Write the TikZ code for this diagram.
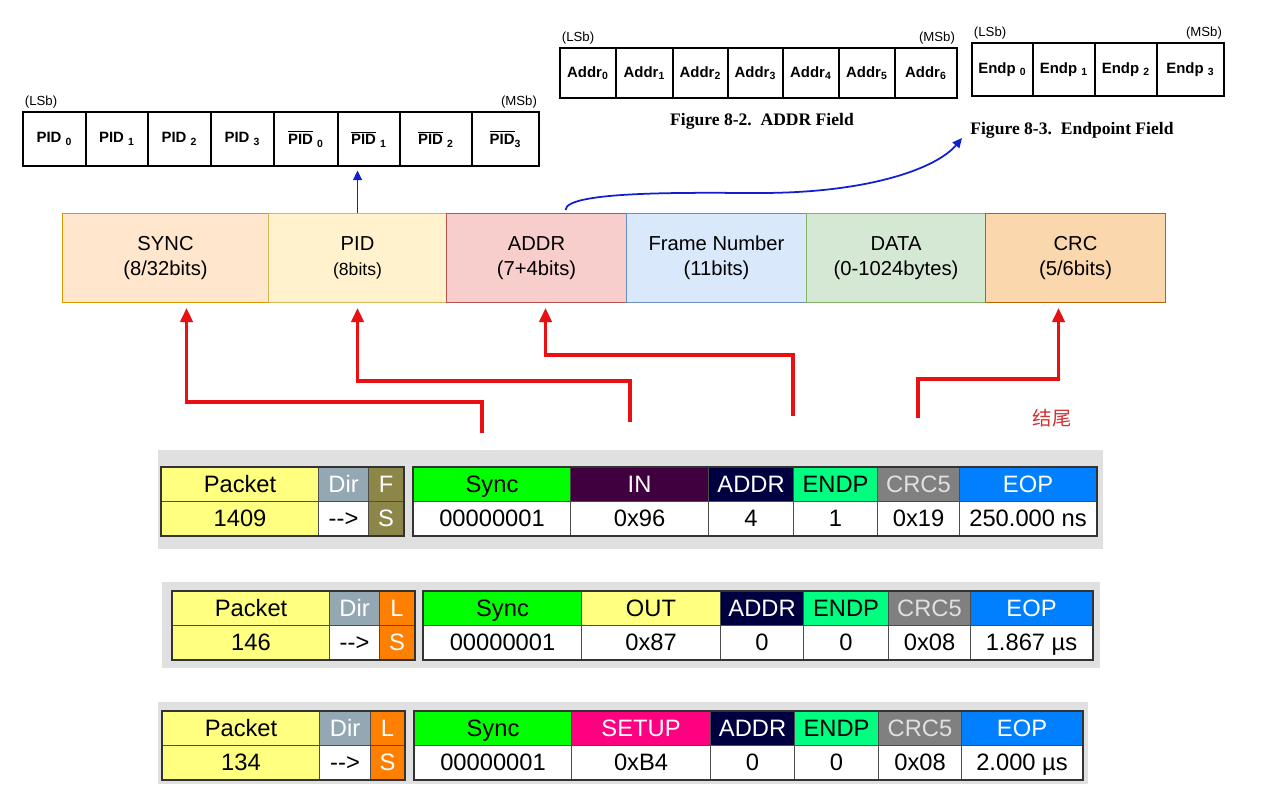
\documentclass[tikz,border=0pt]{standalone}
\usepackage{fontspec}
\setmainfont{Liberation Sans}
\newfontfamily\capfont{Liberation Serif}
\newfontfamily\cjkfont{Noto Sans CJK SC}
\usetikzlibrary{arrows.meta}

\newcommand\pxw{0.02cm}

\definecolor{syncfill}{HTML}{FFE6CC}\definecolor{syncline}{HTML}{D79B00}
\definecolor{pidfill}{HTML}{FFF2CC}\definecolor{pidline}{HTML}{D6B656}
\definecolor{addrfill}{HTML}{F8CECC}\definecolor{addrline}{HTML}{B85450}
\definecolor{fnfill}{HTML}{DAE8FC}\definecolor{fnline}{HTML}{6C8EBF}
\definecolor{datafill}{HTML}{D5E8D4}\definecolor{dataline}{HTML}{82B366}
\definecolor{crcfill}{HTML}{FAD7AC}\definecolor{crcline}{HTML}{B46504}
\definecolor{pkyel}{HTML}{FFFF80}
\definecolor{dirgray}{HTML}{94A8B4}
\definecolor{olive}{HTML}{8C8648}
\definecolor{lorange}{HTML}{FF8000}
\definecolor{syncgreen}{HTML}{00FF00}
\definecolor{inpurple}{HTML}{400040}
\definecolor{addrnavy}{HTML}{000040}
\definecolor{endpgreen}{HTML}{00FF80}
\definecolor{crcgray}{HTML}{808080}
\definecolor{eopblue}{HTML}{0080FF}
\definecolor{setpink}{HTML}{FF0080}
\definecolor{bggray}{HTML}{E0E0E0}
\definecolor{arrred}{HTML}{E81010}
\definecolor{txtred}{HTML}{D03030}
\definecolor{arrblue}{HTML}{1020D0}

\begin{document}
\begin{tikzpicture}[x=0.02cm, y=-0.02cm,
  bitcell/.style={draw, line width=1.1pt, anchor=north west, inner sep=0pt, font=\fontsize{8.5}{10}\selectfont\bfseries},
  bitlbl/.style={inner sep=1.5pt, font=\fontsize{7.5}{9}\selectfont},
  figcap/.style={inner sep=0pt, font=\capfont\fontsize{10}{12}\selectfont\bfseries},
  bar/.style={draw, line width=0.6pt, anchor=north west, minimum height=89*\pxw, inner sep=0pt, align=center, font=\fontsize{11.5}{14}\selectfont},
  tcell/.style={draw=black!70, line width=0.6pt, anchor=north west, minimum height=34*\pxw, inner sep=0pt, text height=11.4pt, text depth=2pt, font=\fontsize{13.5}{16}\selectfont},
  tframe/.style={draw=black!80, line width=1pt},
  redarr/.style={draw=arrred, line width=1.8pt, -{Triangle[length=8pt,width=7pt]}, shorten >=2.8pt},
  bluearr/.style={draw=arrblue, line width=1pt, -{Triangle[length=5.5pt,width=5pt]}},
]
\useasboundingbox (0,0) rectangle (1275,811);

% PID field
\node[bitcell, minimum width=63*\pxw, minimum height=54*\pxw] (p0) at (22,111) {PID \textsubscript{0}};
\node[bitcell, minimum width=62*\pxw, minimum height=54*\pxw] (p1) at (85,111) {PID \textsubscript{1}};
\node[bitcell, minimum width=63*\pxw, minimum height=54*\pxw] (p2) at (147,111) {PID \textsubscript{2}};
\node[bitcell, minimum width=63*\pxw, minimum height=54*\pxw] (p3) at (210,111) {PID \textsubscript{3}};
\node[bitcell, minimum width=64*\pxw, minimum height=54*\pxw] (p4) at (273,111) {$\overline{\mbox{PID}}$ \textsubscript{0}};
\node[bitcell, minimum width=62*\pxw, minimum height=54*\pxw] (p5) at (337,111) {$\overline{\mbox{PID}}$ \textsubscript{1}};
\node[bitcell, minimum width=72*\pxw, minimum height=54*\pxw] (p6) at (399,111) {$\overline{\mbox{PID}}$ \textsubscript{2}};
\node[bitcell, minimum width=67*\pxw, minimum height=54*\pxw] (p7) at (471,111) {$\overline{\mbox{PID}}$\textsubscript{3}};
\node[bitlbl, anchor=south west] (plsb) at (p0.north west) {(LSb)};
\node[bitlbl, anchor=south east] (pmsb) at (p7.north east) {(MSb)};

% ADDR field
\node[bitcell, minimum width=56*\pxw, minimum height=50*\pxw] (a0) at (559,47) {Addr\textsubscript{0}};
\node[bitcell, minimum width=57*\pxw, minimum height=50*\pxw] (a1) at (615,47) {Addr\textsubscript{1}};
\node[bitcell, minimum width=55*\pxw, minimum height=50*\pxw] (a2) at (672,47) {Addr\textsubscript{2}};
\node[bitcell, minimum width=55*\pxw, minimum height=50*\pxw] (a3) at (727,47) {Addr\textsubscript{3}};
\node[bitcell, minimum width=56*\pxw, minimum height=50*\pxw] (a4) at (782,47) {Addr\textsubscript{4}};
\node[bitcell, minimum width=56*\pxw, minimum height=50*\pxw] (a5) at (838,47) {Addr\textsubscript{5}};
\node[bitcell, minimum width=62*\pxw, minimum height=50*\pxw] (a6) at (894,47) {Addr\textsubscript{6}};
\node[bitlbl, anchor=south west] (alsb) at (a0.north west) {(LSb)};
\node[bitlbl, anchor=south east] (amsb) at (a6.north east) {(MSb)};
\node[figcap] (adcap) at (762,121) {Figure 8-2.~~ADDR Field};

% Endpoint field
\node[bitcell, minimum width=61*\pxw, minimum height=53*\pxw] (e0) at (971,42) {Endp \textsubscript{0}};
\node[bitcell, minimum width=62*\pxw, minimum height=53*\pxw] (e1) at (1032,42) {Endp \textsubscript{1}};
\node[bitcell, minimum width=62*\pxw, minimum height=53*\pxw] (e2) at (1094,42) {Endp \textsubscript{2}};
\node[bitcell, minimum width=67*\pxw, minimum height=53*\pxw] (e3) at (1156,42) {Endp \textsubscript{3}};
\node[bitlbl, anchor=south west] (elsb) at (e0.north west) {(LSb)};
\node[bitlbl, anchor=south east] (emsb) at (e3.north east) {(MSb)};
\node[figcap, anchor=west] (epcap) at (970,130) {Figure 8-3.~~Endpoint Field};

% packet layout
\node[bar, fill=syncfill, draw=syncline, minimum width=206*\pxw] (syncbar) at (62,213) {SYNC\\(8/32bits)};
\node[bar, fill=pidfill, draw=pidline, minimum width=178*\pxw] (pidbar) at (268,213) {PID\\{\fontsize{10}{12}\selectfont(8bits)}};
\node[bar, fill=addrfill, draw=addrline, minimum width=180*\pxw] (addrbar) at (446,213) {ADDR\\(7+4bits)};
\node[bar, fill=fnfill, draw=fnline, minimum width=180*\pxw] (fnbar) at (626,213) {Frame Number\\(11bits)};
\node[bar, fill=datafill, draw=dataline, minimum width=179*\pxw] (databar) at (806,213) {DATA\\(0-1024bytes)};
\node[bar, fill=crcfill, draw=crcline, minimum width=180*\pxw] (crcbar) at (985,213) {CRC\\(5/6bits)};

\draw[bluearr, shorten >=2pt] (pidbar.north) -- (pidbar.north |- p5.south);
\draw[bluearr] ([shift={(29,-3)}]addrbar.north) .. controls +(0,-20) and +(-60,0) .. (760,193) .. controls +(110,0) and +(-25,30) .. ([shift={(-8,8)}]epcap.west);

% captured packets
\fill[bggray] (158,450) rectangle (1103,549);
\fill[bggray] (162,582) rectangle (1100,668);
\fill[bggray] (158,702) rectangle (1088,784);

% IN
\node[tcell, fill=pkyel, minimum width=157*\pxw] (k1a) at (161,467) {Packet};
\node[tcell, fill=pkyel, minimum width=157*\pxw] (k1b) at (161,501) {1409};
\node[tcell, fill=dirgray, text=white, minimum width=50*\pxw] (d1a) at (318,467) {Dir};
\node[tcell, fill=white, minimum width=50*\pxw] (d1b) at (318,501) {-{}->};
\node[tcell, fill=olive, text=white, minimum width=35*\pxw] (f1a) at (368,467) {F};
\node[tcell, fill=olive, text=white, minimum width=35*\pxw] (f1b) at (368,501) {S};
\node[tcell, fill=syncgreen, minimum width=157*\pxw] (s1a) at (413,467) {Sync};
\node[tcell, fill=white, minimum width=157*\pxw] (s1b) at (413,501) {00000001};
\node[tcell, fill=inpurple, text=white, minimum width=138*\pxw] (i1a) at (570,467) {IN};
\node[tcell, fill=white, minimum width=138*\pxw] (i1b) at (570,501) {0x96};
\node[tcell, fill=addrnavy, text=white, minimum width=85*\pxw] (a1a) at (708,467) {ADDR};
\node[tcell, fill=white, minimum width=85*\pxw] (a1b) at (708,501) {4};
\node[tcell, fill=endpgreen, minimum width=84*\pxw] (n1a) at (793,467) {ENDP};
\node[tcell, fill=white, minimum width=84*\pxw] (n1b) at (793,501) {1};
\node[tcell, fill=crcgray, text=black!12, minimum width=82*\pxw] (c1a) at (877,467) {CRC5};
\node[tcell, fill=white, minimum width=82*\pxw] (c1b) at (877,501) {0x19};
\node[tcell, fill=eopblue, text=white, minimum width=137*\pxw] (o1a) at (959,467) {EOP};
\node[tcell, fill=white, minimum width=137*\pxw] (o1b) at (959,501) {250.000 ns};
\draw[tframe] (k1a.north west) rectangle (f1b.south east);
\draw[tframe] (s1a.north west) rectangle (o1b.south east);

% OUT
\node[tcell, fill=pkyel, minimum width=157*\pxw] (k2a) at (172,591) {Packet};
\node[tcell, fill=pkyel, minimum width=157*\pxw] (k2b) at (172,625) {146};
\node[tcell, fill=dirgray, text=white, minimum width=50*\pxw] (d2a) at (329,591) {Dir};
\node[tcell, fill=white, minimum width=50*\pxw] (d2b) at (329,625) {-{}->};
\node[tcell, fill=lorange, text=white, minimum width=35*\pxw] (f2a) at (379,591) {L};
\node[tcell, fill=lorange, text=white, minimum width=35*\pxw] (f2b) at (379,625) {S};
\node[tcell, fill=syncgreen, minimum width=158*\pxw] (s2a) at (423,591) {Sync};
\node[tcell, fill=white, minimum width=158*\pxw] (s2b) at (423,625) {00000001};
\node[tcell, fill=pkyel, minimum width=139*\pxw] (i2a) at (581,591) {OUT};
\node[tcell, fill=white, minimum width=139*\pxw] (i2b) at (581,625) {0x87};
\node[tcell, fill=addrnavy, text=white, minimum width=83*\pxw] (a2a) at (720,591) {ADDR};
\node[tcell, fill=white, minimum width=83*\pxw] (a2b) at (720,625) {0};
\node[tcell, fill=endpgreen, minimum width=85*\pxw] (n2a) at (803,591) {ENDP};
\node[tcell, fill=white, minimum width=85*\pxw] (n2b) at (803,625) {0};
\node[tcell, fill=crcgray, text=black!12, minimum width=82*\pxw] (c2a) at (888,591) {CRC5};
\node[tcell, fill=white, minimum width=82*\pxw] (c2b) at (888,625) {0x08};
\node[tcell, fill=eopblue, text=white, minimum width=122*\pxw] (o2a) at (970,591) {EOP};
\node[tcell, fill=white, minimum width=122*\pxw] (o2b) at (970,625) {1.867 µs};
\draw[tframe] (k2a.north west) rectangle (f2b.south east);
\draw[tframe] (s2a.north west) rectangle (o2b.south east);

% SETUP
\node[tcell, fill=pkyel, minimum width=157*\pxw] (k3a) at (162,711) {Packet};
\node[tcell, fill=pkyel, minimum width=157*\pxw] (k3b) at (162,745) {134};
\node[tcell, fill=dirgray, text=white, minimum width=51*\pxw] (d3a) at (319,711) {Dir};
\node[tcell, fill=white, minimum width=51*\pxw] (d3b) at (319,745) {-{}->};
\node[tcell, fill=lorange, text=white, minimum width=34*\pxw] (f3a) at (370,711) {L};
\node[tcell, fill=lorange, text=white, minimum width=34*\pxw] (f3b) at (370,745) {S};
\node[tcell, fill=syncgreen, minimum width=157*\pxw] (s3a) at (414,711) {Sync};
\node[tcell, fill=white, minimum width=157*\pxw] (s3b) at (414,745) {00000001};
\node[tcell, fill=setpink, text=white, minimum width=139*\pxw] (i3a) at (571,711) {SETUP};
\node[tcell, fill=white, minimum width=139*\pxw] (i3b) at (571,745) {0xB4};
\node[tcell, fill=addrnavy, text=white, minimum width=84*\pxw] (a3a) at (710,711) {ADDR};
\node[tcell, fill=white, minimum width=84*\pxw] (a3b) at (710,745) {0};
\node[tcell, fill=endpgreen, minimum width=84*\pxw] (n3a) at (794,711) {ENDP};
\node[tcell, fill=white, minimum width=84*\pxw] (n3b) at (794,745) {0};
\node[tcell, fill=crcgray, text=black!12, minimum width=83*\pxw] (c3a) at (878,711) {CRC5};
\node[tcell, fill=white, minimum width=83*\pxw] (c3b) at (878,745) {0x08};
\node[tcell, fill=eopblue, text=white, minimum width=121*\pxw] (o3a) at (961,711) {EOP};
\node[tcell, fill=white, minimum width=121*\pxw] (o3b) at (961,745) {2.000 µs};
\draw[tframe] (k3a.north west) rectangle (f3b.south east);
\draw[tframe] (s3a.north west) rectangle (o3b.south east);

% red links
\coordinate (rs1) at (482,433);
\coordinate (rs2) at (630,422);
\coordinate (rs3) at (793,416);
\coordinate (rs4) at (918,418);
\draw[redarr] (rs1) -- ++(0,-31) -| ([shift={(21,0)}]syncbar.south);
\draw[redarr] (rs2) -- ++(0,-41) -| (pidbar.south);
\draw[redarr] (rs3) -- ++(0,-61) -| ([shift={(9,0)}]addrbar.south);
\draw[redarr] (rs4) -- ++(0,-39) -| ([shift={(-17,0)}]crcbar.south);
\node[text=txtred, font=\cjkfont\fontsize{11}{13}\selectfont] (tail) at (1052,418) {结尾};
\end{tikzpicture}
\end{document}
